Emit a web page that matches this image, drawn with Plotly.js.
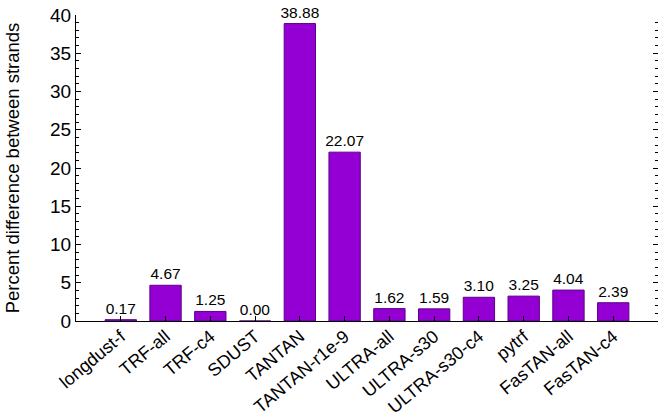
<!DOCTYPE html>
<html>
<head>
<meta charset="utf-8">
<script src="https://cdn.plot.ly/plotly-3.0.1.min.js"></script>
<style>html,body{margin:0;padding:0;background:#fff}#chart{width:662px;height:420px}</style>
</head>
<body>
<div id="chart"></div>
<script>
const categories = ["longdust-f","TRF-all","TRF-c4","SDUST","TANTAN","TANTAN-r1e-9","ULTRA-all","ULTRA-s30","ULTRA-s30-c4","pytrf","FasTAN-all","FasTAN-c4"];
const values = [0.17, 4.67, 1.25, 0.00, 38.88, 22.07, 1.62, 1.59, 3.10, 3.25, 4.04, 2.39];
const yTickVals = [0, 5, 10, 15, 20, 25, 30, 35, 40];

const fam = "Liberation Sans, Arial, Helvetica, sans-serif";
const tickFont = {family: fam, size: 19, color: "#000"};
const titleFont = {family: fam, size: 18.5, color: "#000"};

const trace = {
  type: "bar",
  x: categories.map((c, i) => i),
  y: values,
  width: 0.7,
  marker: {color: "#9400d3", line: {color: "#5c0088", width: 1}},
  text: values.map(v => v.toFixed(2)),
  textposition: "outside",
  constraintext: "none",
  cliponaxis: false,
  textfont: {family: fam, size: 15.5, color: "#000"},
  hoverinfo: "none"
};
const ghost = {
  type: "scatter", x: [0], y: [0], yaxis: "y2", mode: "none", showlegend: false, hoverinfo: "none"
};

const layout = {
  width: 662, height: 420,
  margin: {l: 76, r: 4, t: 15, b: 99},
  paper_bgcolor: "#fff", plot_bgcolor: "#fff",
  showlegend: false,
  font: tickFont,
  xaxis: {
    range: [-1, 12],
    tickmode: "array",
    tickvals: categories.map((c, i) => i),
    ticktext: categories,
    tickangle: -40,
    ticks: "inside", ticklen: 5, tickcolor: "#000",
    showline: true, linecolor: "#000", linewidth: 1,
    showgrid: false, zeroline: false,
    tickfont: {family: fam, size: 18, color: "#000"},
    ticklabelstandoff: -3,
    automargin: false
  },
  yaxis: {
    range: [0, 40],
    tickmode: "array", tickvals: yTickVals,
    ticks: "inside", ticklen: 5, tickcolor: "#000",
    minor: {ticks: "inside", dtick: 1, ticklen: 3, tickcolor: "#000", showgrid: false},
    showline: true, linecolor: "#000", linewidth: 1,
    showgrid: false, zeroline: false,
    tickfont: tickFont,
    automargin: false,
    title: {text: "Percent difference between strands", font: titleFont, standoff: 25}
  },
  yaxis2: {
    overlaying: "y", side: "right", range: [0, 40],
    tickmode: "array", tickvals: yTickVals,
    ticks: "inside", ticklen: 5, tickcolor: "#000",
    minor: {ticks: "inside", dtick: 1, ticklen: 3, tickcolor: "#000", showgrid: false},
    showline: false, showgrid: false, zeroline: false, showticklabels: false
  }
};

Plotly.newPlot("chart", [trace, ghost], layout, {displayModeBar: false, staticPlot: true});
</script>
</body>
</html>
